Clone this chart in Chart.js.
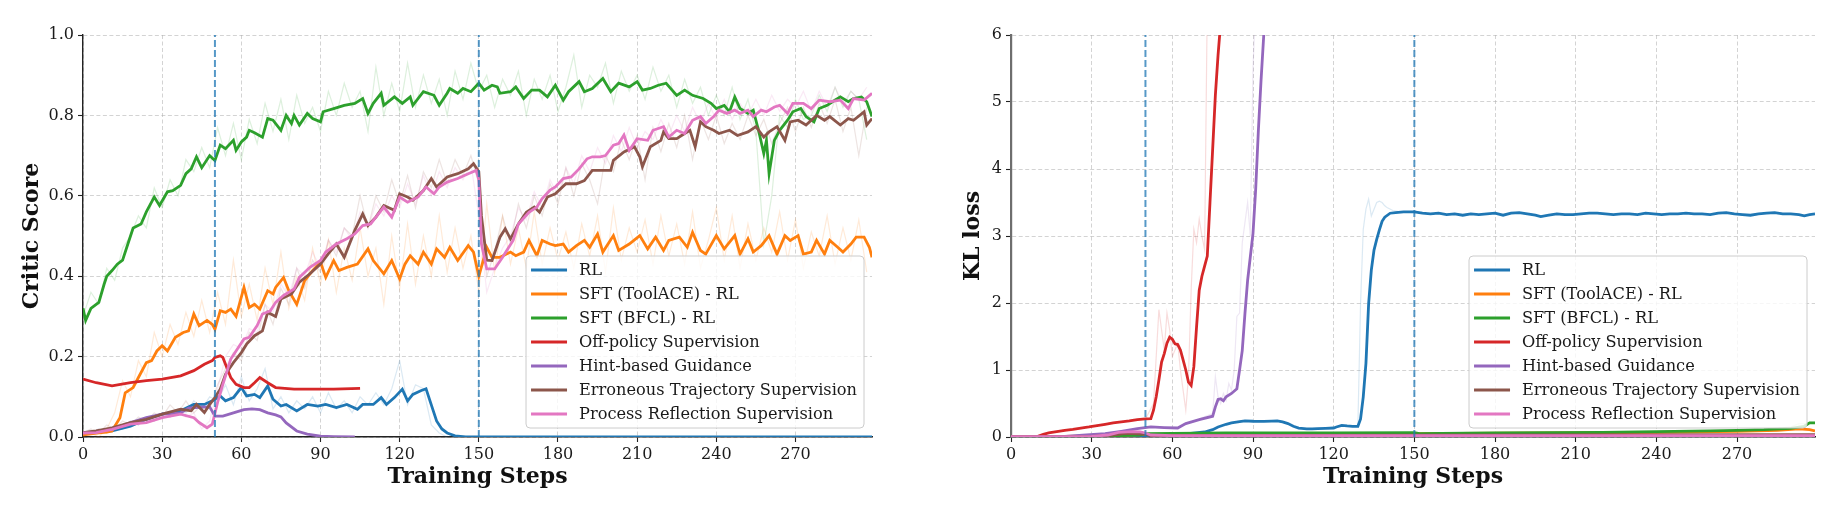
<!DOCTYPE html>
<html>
<head>
<meta charset="utf-8">
<script src="https://cdn.jsdelivr.net/npm/chart.js@4.4.1/dist/chart.umd.min.js"></script>
<style>
  html, body { margin: 0; padding: 0; background: #fff; }
  body { width: 1824px; height: 520px; position: relative; overflow: hidden; }
  #left-wrap { position: absolute; left: 0; top: 0; width: 890px; height: 520px; }
  #right-wrap { position: absolute; left: 912px; top: 0; width: 912px; height: 520px; }
</style>
</head>
<body>
<div id="left-wrap"><canvas id="critic-chart" width="890" height="520"></canvas></div>
<div id="right-wrap"><canvas id="kl-chart" width="912" height="520"></canvas></div>
<script>
// ---- data ----
const seriesNames = ['RL', 'SFT (ToolACE) - RL', 'SFT (BFCL) - RL', 'Off-policy Supervision',
  'Hint-based Guidance', 'Erroneous Trajectory Supervision', 'Process Reflection Supervision'];
const seriesColors = ['#1f77b4', '#ff7f0e', '#2ca02c', '#d62728', '#9467bd', '#8c564b', '#e377c2'];
const phaseSteps = [50, 150];
const xTicks = [0, 30, 60, 90, 120, 150, 180, 210, 240, 270];

// critic score, smoothed [step, value]
const criticRL = [[0,.01],[11,.015],[18,.027],[24,.044],[30,.057],[37,.065],[42,.081],[46,.081],[49,.09],[52,.102],[54,.09],[57,.098],[60,.123],[62,.102],[65,.106],[67,.098],[70,.127],[72,.094],[75,.077],[77,.081],[81,.065],[85,.081],[89,.077],[92,.081],[96,.073],[100,.081],[104,.069],[106,.081],[110,.081],[113,.098],[115,.081],[118,.098],[121,.119],[123,.09],[125,.106],[128,.115],[130,.12],[132,.08],[134,.04],[136,.02],[138,.01],[141,.003],[145,0],[299,0]];
const criticToolace = [[0,.005],[3,.008],[6,.01],[9,.012],[11,.015],[14,.048],[16,.11],[19,.123],[21,.148],[24,.185],[26,.19],[28,.214],[30,.227],[32,.214],[35,.248],[38,.26],[40,.264],[42,.306],[44,.277],[47,.29],[49,.28],[50,.268],[52,.314],[54,.31],[56,.318],[58,.30],[61,.372],[63,.322],[65,.33],[67,.318],[70,.364],[72,.356],[73,.372],[76,.397],[78,.364],[81,.33],[84,.389],[87,.414],[90,.435],[92,.397],[95,.439],[97,.414],[100,.422],[104,.43],[108,.468],[110,.439],[114,.406],[117,.439],[120,.393],[122,.43],[124,.451],[127,.43],[129,.46],[132,.43],[134,.468],[137,.447],[139,.472],[142,.439],[146,.476],[148,.46],[150,.40],[152,.447],[153,.472],[155,.447],[158,.447],[162,.46],[164,.451],[167,.46],[169,.489],[172,.451],[174,.489],[177,.48],[179,.476],[182,.48],[184,.46],[187,.476],[190,.489],[192,.472],[195,.505],[197,.46],[201,.501],[203,.464],[207,.48],[211,.501],[214,.468],[217,.497],[220,.464],[222,.489],[226,.497],[229,.472],[231,.509],[234,.464],[236,.455],[240,.501],[243,.468],[247,.501],[249,.455],[252,.493],[254,.46],[257,.476],[260,.501],[263,.455],[266,.501],[268,.489],[271,.501],[273,.455],[276,.46],[278,.489],[281,.455],[283,.489],[286,.472],[288,.46],[291,.48],[293,.497],[296,.497],[298,.472],[299,.447]];
const criticBfcl = [[0,.32],[1,.29],[3,.32],[6,.335],[8,.38],[9,.40],[11,.414],[13,.43],[15,.44],[17,.48],[19,.52],[22,.53],[24,.56],[27,.597],[29,.576],[32,.61],[34,.613],[37,.626],[39,.655],[41,.667],[43,.697],[45,.67],[48,.70],[50,.688],[52,.726],[54,.717],[57,.738],[58,.713],[60,.734],[62,.746],[63,.763],[65,.757],[68,.746],[70,.792],[72,.788],[75,.763],[77,.80],[79,.78],[80,.80],[82,.776],[85,.805],[87,.792],[90,.784],[91,.809],[95,.817],[99,.825],[103,.83],[106,.842],[108,.805],[110,.83],[113,.855],[114,.825],[118,.846],[121,.83],[124,.846],[125,.825],[129,.859],[133,.85],[135,.825],[138,.855],[139,.867],[142,.855],[144,.867],[147,.859],[150,.88],[152,.863],[155,.875],[157,.871],[158,.855],[162,.859],[164,.871],[167,.842],[170,.863],[173,.863],[176,.846],[179,.875],[182,.838],[184,.859],[188,.884],[190,.859],[193,.867],[197,.892],[200,.859],[203,.88],[207,.871],[210,.884],[212,.863],[215,.867],[218,.875],[221,.88],[225,.85],[228,.863],[231,.85],[235,.842],[238,.83],[240,.817],[243,.825],[245,.809],[247,.846],[249,.817],[252,.805],[254,.813],[256,.763],[258,.705],[259,.738],[260,.655],[262,.738],[264,.763],[267,.788],[269,.809],[272,.817],[274,.797],[277,.784],[279,.817],[282,.825],[284,.834],[287,.846],[290,.834],[292,.842],[295,.846],[297,.834],[299,.797]];
const criticOffPolicy = [[0,.144],[5,.135],[11,.127],[18,.135],[24,.14],[30,.144],[37,.152],[42,.165],[46,.181],[49,.19],[50,.198],[52,.202],[53,.198],[54,.181],[56,.148],[58,.131],[61,.123],[63,.123],[65,.135],[67,.148],[70,.135],[73,.123],[80,.119],[87,.119],[95,.119],[105,.121]];
const criticHint = [[0,.01],[11,.019],[18,.036],[24,.048],[30,.057],[37,.06],[40,.072],[44,.074],[48,.075],[50,.052],[53,.052],[57,.06],[61,.068],[64,.07],[67,.068],[70,.06],[73,.055],[75,.05],[77,.035],[81,.015],[85,.007],[90,.002],[95,.001],[103,0]];
const criticErroneous = [[0,.011],[5,.015],[11,.023],[18,.036],[24,.044],[30,.057],[37,.069],[41,.065],[43,.081],[46,.061],[48,.081],[50,.098],[52,.119],[54,.156],[57,.185],[60,.21],[62,.231],[65,.252],[68,.264],[70,.31],[73,.30],[75,.343],[79,.356],[82,.385],[86,.406],[90,.43],[93,.456],[96,.48],[99,.447],[103,.514],[106,.555],[108,.526],[111,.547],[114,.576],[118,.564],[120,.605],[123,.597],[125,.589],[129,.613],[132,.643],[134,.622],[138,.647],[142,.655],[146,.667],[148,.68],[150,.66],[151,.55],[153,.44],[155,.439],[158,.497],[160,.518],[162,.493],[165,.53],[168,.559],[171,.572],[173,.559],[176,.597],[179,.605],[183,.63],[187,.63],[190,.638],[193,.663],[196,.663],[200,.663],[201,.688],[205,.709],[209,.722],[211,.697],[212,.672],[215,.722],[219,.738],[220,.759],[222,.742],[225,.742],[228,.755],[230,.763],[232,.722],[234,.784],[236,.772],[239,.763],[241,.755],[245,.763],[248,.75],[252,.759],[255,.772],[258,.746],[260,.759],[263,.772],[266,.738],[268,.784],[271,.788],[274,.776],[278,.80],[281,.788],[283,.797],[287,.776],[290,.792],[292,.788],[296,.809],[297,.776],[299,.792]];
const criticReflection = [[0,.01],[5,.011],[11,.019],[18,.032],[24,.036],[30,.048],[37,.057],[42,.048],[44,.036],[47,.023],[49,.032],[51,.086],[53,.131],[56,.194],[58,.214],[61,.244],[63,.248],[66,.277],[68,.306],[71,.314],[73,.335],[76,.352],[80,.368],[82,.397],[86,.422],[90,.439],[92,.46],[96,.48],[100,.493],[103,.505],[106,.526],[109,.53],[111,.547],[114,.572],[117,.547],[120,.597],[123,.584],[127,.597],[130,.622],[133,.605],[135,.622],[138,.634],[142,.643],[146,.655],[149,.663],[150,.64],[151,.48],[153,.418],[156,.418],[159,.447],[161,.468],[163,.489],[165,.53],[169,.559],[172,.572],[174,.593],[177,.614],[179,.622],[182,.643],[185,.647],[188,.667],[191,.692],[193,.697],[196,.697],[198,.70],[201,.726],[203,.73],[205,.751],[207,.713],[210,.742],[214,.738],[216,.763],[220,.772],[222,.746],[225,.763],[228,.755],[231,.788],[234,.797],[236,.78],[239,.797],[241,.813],[244,.805],[247,.813],[249,.805],[252,.813],[254,.797],[257,.813],[259,.809],[262,.821],[264,.825],[267,.805],[269,.83],[273,.83],[276,.817],[279,.838],[283,.834],[287,.838],[290,.817],[292,.842],[296,.838],[299,.855]];

// critic score, raw (faded) values every 3 steps
const rawSteps = [0,3,6,9,12,15,18,21,24,27,30,33,36,39,42,45,48,51,54,57,60,63,66,69,72,75,78,81,84,87,90,93,96,99,102,105,108,111,114,117,120,123,126,129,132,135,138,141,144,147,150,153,156,159,162,165,168,171,174,177,180,183,186,189,192,195,198,201,204,207,210,213,216,219,222,225,228,231,234,237,240,243,246,249,252,255,258,261,264,267,270,273,276,279,282,285,288,291,294,297];
const rawRL = [.01,.01,.02,.01,.03,.02,.04,.03,.05,.04,.06,.05,.07,.06,.09,.07,.10,.09,.13,.08,.15,.09,.12,.17,.07,.10,.06,.09,.07,.10,.06,.11,.07,.09,.06,.10,.08,.11,.08,.12,.19,.08,.13,.12,.03,.01,0,0];
const rawToolace = [0,.01,0,.02,.06,.14,.10,.19,.15,.26,.20,.28,.23,.31,.25,.34,.26,.36,.28,.44,.30,.38,.29,.42,.33,.46,.32,.40,.34,.47,.38,.49,.36,.47,.39,.52,.40,.47,.33,.50,.37,.53,.38,.50,.40,.55,.41,.52,.42,.50,.36,.58,.41,.55,.43,.52,.42,.56,.43,.52,.44,.51,.42,.53,.45,.55,.41,.57,.44,.52,.46,.54,.43,.55,.45,.53,.43,.56,.42,.49,.57,.44,.55,.42,.53,.44,.52,.46,.56,.44,.54,.42,.51,.45,.55,.43,.52,.44,.54,.41];
const rawBfcl = [.30,.36,.33,.42,.39,.47,.50,.55,.52,.62,.57,.64,.60,.69,.66,.72,.67,.77,.70,.78,.69,.79,.73,.83,.76,.84,.74,.85,.78,.82,.76,.86,.80,.88,.82,.86,.76,.92,.80,.88,.81,.93,.82,.90,.83,.89,.80,.91,.84,.93,.86,.90,.82,.89,.85,.91,.80,.89,.84,.90,.81,.87,.95,.82,.90,.87,.93,.83,.91,.86,.90,.84,.92,.86,.90,.82,.89,.83,.87,.80,.85,.80,.87,.79,.84,.76,.48,.60,.80,.77,.84,.79,.80,.85,.81,.87,.82,.86,.84,.74];
const rawErroneous = [.01,.02,.01,.03,.02,.04,.03,.05,.04,.06,.05,.08,.06,.09,.06,.08,.07,.13,.17,.21,.19,.26,.24,.33,.28,.37,.33,.42,.37,.44,.41,.49,.45,.52,.50,.60,.52,.60,.56,.64,.58,.65,.57,.66,.62,.69,.63,.69,.65,.70,.63,.40,.46,.55,.48,.58,.52,.60,.55,.63,.58,.67,.60,.68,.64,.58,.70,.66,.74,.69,.75,.64,.77,.71,.78,.72,.80,.69,.79,.74,.80,.73,.78,.74,.80,.75,.79,.73,.78,.82,.76,.82,.77,.83,.78,.84,.76,.82,.70,.82];
const rawReflection = [.01,.01,.02,.01,.03,.02,.04,.03,.05,.04,.06,.05,.07,.05,.06,.02,.04,.12,.20,.23,.22,.27,.26,.33,.31,.38,.35,.42,.40,.46,.42,.49,.46,.52,.49,.56,.52,.58,.55,.60,.57,.63,.58,.65,.60,.66,.62,.67,.64,.68,.55,.36,.42,.47,.50,.57,.54,.61,.57,.64,.60,.67,.63,.70,.66,.72,.68,.75,.71,.77,.72,.76,.74,.79,.75,.80,.76,.82,.78,.83,.79,.84,.79,.83,.80,.84,.80,.85,.81,.84,.82,.86,.81,.86,.82,.87,.83,.86,.84,.87];

// KL loss, smoothed [step, value]
const klRL = [[0,0],[10,.005],[20,.005],[30,.008],[40,.01],[47,.012],[55,.025],[60,.035],[66,.05],[72,.075],[75,.11],[77,.15],[80,.19],[82,.21],[85,.23],[87,.24],[90,.235],[94,.234],[97,.237],[99,.24],[101,.225],[103,.2],[105,.16],[107,.134],[110,.12],[112,.12],[114,.125],[117,.13],[120,.134],[121,.15],[123,.174],[125,.165],[127,.16],[129,.16],[130,.27],[131,.6],[132,1.1],[133,1.99],[134,2.49],[135,2.79],[136,2.95],[137,3.09],[138,3.22],[139,3.28],[141,3.34],[143,3.35],[146,3.36],[150,3.36],[153,3.34],[156,3.33],[159,3.34],[162,3.32],[165,3.33],[168,3.31],[171,3.33],[174,3.32],[177,3.33],[180,3.34],[183,3.31],[186,3.34],[189,3.35],[192,3.33],[195,3.31],[197,3.29],[200,3.31],[203,3.33],[206,3.32],[209,3.32],[212,3.33],[215,3.34],[218,3.34],[221,3.33],[224,3.32],[227,3.33],[230,3.33],[233,3.32],[236,3.34],[239,3.33],[242,3.32],[245,3.33],[248,3.33],[251,3.34],[254,3.33],[257,3.33],[260,3.32],[263,3.34],[266,3.35],[269,3.33],[272,3.32],[275,3.31],[278,3.33],[281,3.34],[284,3.35],[287,3.33],[290,3.33],[293,3.32],[295,3.30],[297,3.32],[299,3.33]];
const klToolace = [[0,.005],[20,.01],[40,.02],[50,.04],[100,.045],[150,.05],[200,.06],[240,.07],[270,.085],[285,.1],[293,.12],[297,.11],[299,.09]];
const klBfcl = [[0,.005],[10,.005],[20,.008],[30,.01],[40,.02],[48,.03],[50,.05],[60,.055],[80,.06],[100,.06],[120,.06],[150,.065],[152,.05],[160,.055],[180,.06],[200,.065],[220,.07],[240,.08],[260,.09],[270,.1],[280,.11],[290,.13],[295,.16],[297,.21],[299,.21]];
const klOffPolicy = [[0,0],[5,0],[10,.01],[12,.04],[14,.06],[17,.08],[20,.1],[23,.115],[26,.134],[29,.15],[32,.17],[35,.19],[38,.21],[41,.225],[44,.24],[47,.26],[50,.27],[52,.274],[53,.4],[54,.6],[55,.85],[56,1.12],[57,1.245],[58,1.4],[59,1.49],[60,1.46],[61,1.39],[62,1.38],[63,1.3],[64,1.15],[65,1.0],[66,.82],[67,.77],[68,1.05],[69,1.64],[70,2.19],[71,2.4],[72,2.55],[73,2.7],[74,3.5],[75,4.3],[76,5.1],[77,5.7],[78,6.2],[79,7.0],[80,8.0],[83,10],[90,14],[100,18],[105,20]];
const klHint = [[0,0],[10,0],[20,.01],[28,.03],[35,.05],[41,.085],[47,.125],[52,.15],[57,.14],[62,.134],[65,.2],[70,.26],[75,.31],[76,.45],[77,.56],[78,.57],[79,.54],[80,.6],[82,.65],[84,.72],[85,1.0],[86,1.29],[87,1.84],[88,2.34],[89,2.69],[90,3.04],[91,3.7],[92,4.58],[93,5.33],[94,6.0],[95,6.8],[97,8],[100,10],[103,12]];
const klErroneous = [[0,.005],[30,.01],[38,.03],[42,.05],[46,.05],[50,.04],[52,.02],[100,.025],[200,.03],[299,.035]];
const klReflection = [[0,.005],[30,.01],[36,.03],[40,.07],[45,.08],[48,.075],[50,.06],[52,.03],[60,.02],[150,.02],[200,.02],[299,.02]];

// KL loss, raw (faded) [step, value]
const klRawRL = [[125,.17],[128,.16],[129,.16],[130,2.0],[131,3.1],[132,3.4],[133,3.55],[134,3.3],[135,3.4],[136,3.5],[137,3.52],[138,3.5],[139,3.45],[140,3.42],[142,3.38],[145,3.36],[150,3.35]];
const klRawOffPolicy = [[45,.25],[50,.27],[53,.5],[55,1.9],[56,1.6],[57,1.3],[58,1.85],[59,1.6],[60,1.2],[61,1.3],[62,1.4],[63,1.0],[64,.7],[65,.4],[66,.9],[67,2.2],[68,3.1],[69,2.9],[70,3.25],[71,3.0],[72,2.8],[73,6.5],[75,9]];
const klRawHint = [[70,.27],[75,.35],[76,.9],[77,.6],[78,.5],[79,.65],[80,.55],[81,.8],[82,.7],[83,1.0],[84,1.8],[85,1.85],[86,2.9],[87,3.2],[88,3.5],[89,3.0],[90,5.5],[91,6.5],[93,8]];
const klRawBfcl = [[270,.1],[280,.12],[285,.13],[290,.15],[293,.2],[295,.2],[297,.22],[299,.22]];

// ---- helpers ----
Chart.defaults.font.family = '"DejaVu Serif", serif';
Chart.defaults.color = '#1a1a1a';

const toPts = (pairs) => pairs.map(([x, y]) => ({ x, y }));
const toRaw = (vals) => vals.map((y, i) => ({ x: rawSteps[i], y }));

const fade = (hex, a) => {
  const n = parseInt(hex.slice(1), 16);
  return `rgba(${n >> 16}, ${(n >> 8) & 255}, ${n & 255}, ${a})`;
};

const smoothSet = (i, pairs) => ({
  label: seriesNames[i],
  data: toPts(pairs),
  borderColor: seriesColors[i],
  borderWidth: 2.8,
  pointRadius: 0,
  tension: 0,
  order: 10 - i,
  inLegend: true
});

const rawSet = (i, pts) => ({
  label: seriesNames[i] + ' raw',
  data: pts,
  borderColor: fade(seriesColors[i], 0.16),
  borderWidth: 1.2,
  pointRadius: 0,
  tension: 0,
  order: 30 - i
});

const phaseSets = (yTop) => phaseSteps.map((s) => ({
  label: 'phase ' + s,
  data: [{ x: s, y: 0 }, { x: s, y: yTop }],
  borderColor: 'rgba(31, 119, 180, 0.75)',
  borderWidth: 2,
  borderDash: [7, 3],
  pointRadius: 0,
  order: 0
}));

// legend drawn in the lower right corner of the plot area
const boxLegend = {
  id: 'boxLegend',
  afterDraw(chart) {
    const { ctx, chartArea: area } = chart;
    const items = chart.data.datasets.filter((d) => d.inLegend);
    ctx.save();
    ctx.font = '16.2px "DejaVu Serif"';
    const textW = Math.max(...items.map((d) => ctx.measureText(d.label).width));
    const rowH = 24;
    const w = textW + 60, h = items.length * rowH + 4;
    const x = area.right - 8 - w, y = area.bottom - 9 - h;
    ctx.beginPath();
    ctx.roundRect(x, y, w, h, 4);
    ctx.fillStyle = 'rgba(255, 255, 255, 0.8)';
    ctx.fill();
    ctx.strokeStyle = '#cccccc';
    ctx.lineWidth = 1;
    ctx.stroke();
    items.forEach((d, i) => {
      const cy = y + 14 + i * rowH;
      ctx.beginPath();
      ctx.moveTo(x + 5, cy);
      ctx.lineTo(x + 41, cy);
      ctx.strokeStyle = d.borderColor;
      ctx.lineWidth = 2.8;
      ctx.stroke();
      ctx.fillStyle = '#1a1a1a';
      ctx.textBaseline = 'middle';
      ctx.fillText(d.label, x + 53, cy + 1);
    });
    ctx.restore();
  }
};

const makeChart = (id, datasets, cfg) => new Chart(document.getElementById(id), {
  type: 'line',
  data: { datasets },
  plugins: [boxLegend],
  options: {
    responsive: false,
    animation: false,
    events: [],
    layout: { padding: { left: 0, right: cfg.padRight, top: 35, bottom: 0 } },
    plugins: { legend: { display: false }, tooltip: { enabled: false } },
    scales: {
      x: {
        type: 'linear',
        min: 0,
        max: 299,
        afterBuildTicks: (s) => { s.ticks = xTicks.map((v) => ({ value: v })); },
        afterFit: (s) => { s.height = 83; },
        ticks: { font: { size: 16 }, color: '#1a1a1a', padding: 3, maxRotation: 0, autoSkip: false },
        grid: { color: 'rgba(175, 175, 175, 0.55)', lineWidth: 1, tickLength: 5, tickColor: '#222', tickWidth: 1.1, tickBorderDash: [] },
        border: { display: true, color: '#222', width: 1.4, dash: [4, 2.5] },
        title: { display: true, text: 'Training Steps', color: '#111', font: { size: 22, weight: 'bold' }, padding: { top: 0, bottom: 30 } }
      },
      y: {
        type: 'linear',
        min: 0,
        max: cfg.yMax,
        afterFit: (s) => { s.width = cfg.yWidth; },
        ticks: { stepSize: cfg.yStep, font: { size: 16 }, color: '#1a1a1a', padding: 4, callback: cfg.yFormat },
        grid: { color: 'rgba(175, 175, 175, 0.55)', lineWidth: 1, tickLength: 5, tickColor: '#222', tickWidth: 1.1, tickBorderDash: [] },
        border: { display: true, color: cfg.spineColor, width: cfg.spineWidth, dash: [4, 2.5] },
        title: { display: true, text: cfg.yTitle, color: '#111', font: { size: 22, weight: 'bold' }, padding: { top: cfg.titlePad, bottom: 0 } }
      }
    }
  }
});

// ---- left: critic score ----
const criticSmooth = [criticRL, criticToolace, criticBfcl, criticOffPolicy, criticHint, criticErroneous, criticReflection];
const criticRaw = [[0, rawRL], [1, rawToolace], [2, rawBfcl], [5, rawErroneous], [6, rawReflection]];
makeChart('critic-chart', [
  ...criticSmooth.map((p, i) => smoothSet(i, p)),
  ...criticRaw.map(([i, v]) => rawSet(i, toRaw(v))),
  ...phaseSets(1)
], {
  padRight: 18, yWidth: 83, yMax: 1, yStep: 0.2, yFormat: (v) => v.toFixed(1),
  yTitle: 'Critic Score', titlePad: 19, spineColor: '#222', spineWidth: 1.4
});

// ---- right: KL loss ----
const klSmooth = [klRL, klToolace, klBfcl, klOffPolicy, klHint, klErroneous, klReflection];
const klRaw = [[0, klRawRL], [2, klRawBfcl], [3, klRawOffPolicy], [4, klRawHint]];
makeChart('kl-chart', [
  ...klSmooth.map((p, i) => smoothSet(i, p)),
  ...klRaw.map(([i, p]) => rawSet(i, toPts(p))),
  ...phaseSets(6)
], {
  padRight: 9, yWidth: 99, yMax: 6, yStep: 1, yFormat: (v) => String(v),
  yTitle: 'KL loss', titlePad: 48, spineColor: '#6e6e6e', spineWidth: 2.2
});
</script>
</body>
</html>
